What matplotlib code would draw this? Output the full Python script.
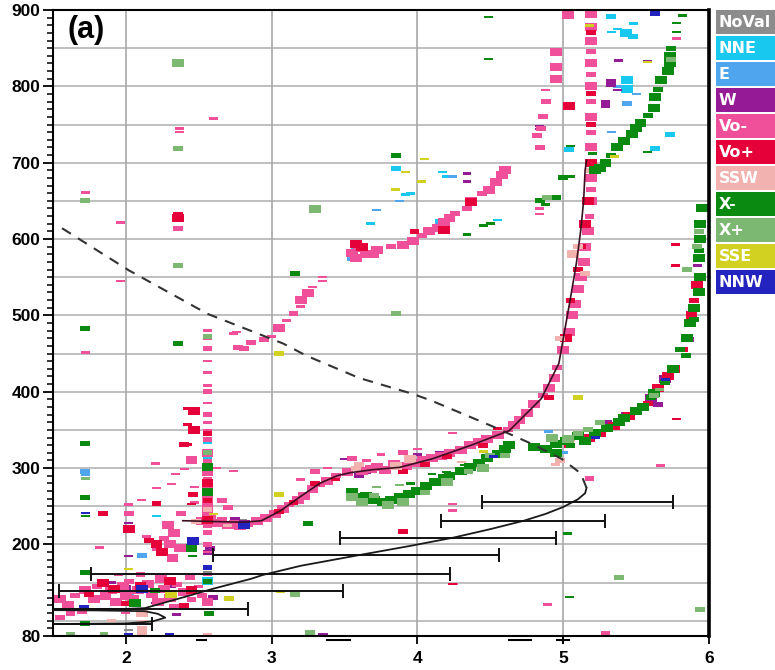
import numpy as np
import matplotlib
matplotlib.use("Agg")
import matplotlib.pyplot as plt
from matplotlib.patches import Rectangle
from matplotlib.ticker import FixedLocator, MultipleLocator

plt.rcParams["font.family"] = ["Liberation Sans", "DejaVu Sans"]

# ---- echo classes (legend order) and colours ----
classes = ["NoVal", "NNE", "E", "W", "Vo-", "Vo+", "SSW", "X-", "X+", "SSE", "NNW"]
class_colors = ["#8c8c8c", "#19c8ee", "#4fa6ee", "#951a96", "#f0509a", "#e6003a",
                "#f2b2b0", "#0b8a12", "#7cb872", "#d2d020", "#2323c0"]

# ---- echoes: (frequency MHz, virtual height km, amplitude class 1..3) ----
echo_noval = [(2.56, 164, 1), (2.80, 232, 1), (2.02, 88, 1)]

echo_nne = [(2.56, 152, 3), (2.56, 335, 2), (2.21, 237, 1), (2.56, 315, 2), (3.85, 693, 2),
            (3.95, 660, 1), (5.44, 808, 3), (5.44, 796, 3), (5.04, 717, 2), (5.63, 719, 2),
            (5.43, 870, 3), (5.48, 865, 2), (5.33, 891, 2), (5.33, 871, 1), (5.37, 875, 1),
            (5.48, 882, 1), (4.17, 688, 1), (4.20, 682, 1), (2.10, 148, 2), (2.00, 138, 2),
            (5.73, 737, 2), (3.68, 620, 1), (3.92, 658, 1), (4.15, 624, 1), (4.55, 625, 1)]

echo_e = [(1.72, 296, 2), (1.72, 291, 1), (2.02, 135, 2), (2.11, 185, 2), (2.56, 305, 2),
          (4.24, 682, 1), (5.44, 777, 2), (5.37, 800, 1), (5.50, 790, 1), (3.58, 590, 2),
          (3.60, 585, 1), (3.72, 638, 1), (3.88, 650, 1), (5.33, 740, 1), (4.15, 620, 1),
          (3.55, 575, 2), (5.15, 620, 2), (4.90, 348, 1), (5.00, 320, 1)]

echo_w = [(2.02, 228, 1), (2.02, 185, 1), (2.46, 205, 2), (2.81, 227, 3), (2.75, 233, 2),
          (2.56, 190, 2), (2.56, 310, 1), (3.60, 290, 2), (3.65, 295, 2), (3.30, 297, 1),
          (3.50, 312, 1), (4.00, 318, 1), (4.15, 320, 1), (5.33, 806, 2), (5.33, 802, 2),
          (5.37, 795, 1), (5.29, 779, 2), (5.29, 775, 2), (4.34, 686, 1), (4.34, 675, 1),
          (5.38, 834, 1), (5.58, 833, 1), (4.84, 748, 1), (4.84, 744, 1), (3.35, 81, 2),
          (2.45, 142, 2), (2.30, 148, 3), (2.20, 123, 1), (2.60, 131, 2), (5.60, 392, 3),
          (5.65, 383, 2), (5.70, 417, 3), (5.86, 468, 2), (5.92, 565, 1), (5.93, 600, 2),
          (2.00, 143, 2), (2.35, 108, 1), (1.90, 150, 1), (5.43, 370, 2), (5.30, 360, 2),
          (2.58, 195, 2)]

echo_vo_minus = [
    # F-region ordinary trace
    (2.52, 230, 3), (2.58, 236, 3), (2.62, 228, 3), (2.66, 233, 2), (2.70, 226, 3),
    (2.74, 229, 2), (2.78, 224, 3), (2.84, 226, 2), (2.90, 230, 3), (2.96, 235, 3),
    (3.02, 240, 3), (3.08, 247, 3), (3.12, 252, 2), (3.18, 258, 3), (3.22, 264, 3),
    (3.28, 272, 3), (3.33, 278, 2), (3.38, 283, 3), (3.44, 290, 2), (3.52, 295, 3),
    (3.62, 296, 3), (3.68, 299, 3), (3.72, 302, 3), (3.78, 298, 3), (3.84, 305, 3),
    (3.92, 303, 3), (3.98, 306, 3), (4.04, 310, 3), (4.10, 313, 3), (4.16, 316, 3),
    (4.22, 320, 3), (4.30, 324, 3), (4.36, 330, 3), (4.42, 334, 3), (4.48, 338, 3),
    (4.55, 343, 3), (4.62, 350, 2), (4.66, 356, 3), (4.70, 363, 3), (4.75, 372, 3),
    (4.80, 384, 3), (4.86, 395, 2),
    (4.90, 405, 3), (4.94, 418, 3), (4.96, 432, 2), (5.00, 455, 3), (5.04, 478, 3),
    (5.06, 500, 3), (5.08, 515, 3), (5.10, 535, 3), (5.12, 550, 3), (5.14, 570, 3),
    (5.15, 590, 3), (5.17, 610, 3), (5.18, 630, 2), (5.19, 650, 3), (5.19, 665, 2),
    (5.19, 680, 3), (5.19, 720, 3), (5.19, 740, 2), (5.19, 760, 3), (5.19, 780, 2),
    (5.19, 800, 3), (5.19, 815, 2), (5.19, 830, 3), (5.19, 845, 2), (5.19, 860, 3),
    (5.19, 878, 3), (5.19, 895, 3),
    (3.65, 310, 1), (3.75, 318, 1), (3.90, 320, 2), (4.00, 325, 1), (3.55, 312, 2),
    (3.30, 296, 2), (3.20, 285, 1), (3.38, 300, 1),
    # second-hop trace
    (2.56, 458, 1), (2.77, 458, 2), (2.86, 464, 2), (2.95, 468, 2), (3.00, 472, 1),
    (2.74, 476, 1), (3.05, 484, 3), (3.10, 493, 1), (3.15, 502, 2), (3.20, 512, 1),
    (3.20, 520, 3), (3.25, 529, 3), (3.28, 537, 1), (3.35, 550, 1), (3.35, 545, 1),
    (3.55, 582, 3), (3.60, 588, 3), (3.58, 575, 3), (3.65, 580, 3), (3.72, 585, 3),
    (3.70, 578, 2), (3.82, 590, 2), (3.90, 592, 3), (3.97, 598, 3), (4.03, 605, 2),
    (4.08, 611, 3), (4.14, 615, 3), (4.18, 622, 3), (4.22, 628, 3), (4.26, 633, 2),
    (4.34, 640, 2), (4.37, 650, 3), (4.44, 660, 2), (4.49, 664, 3), (4.54, 675, 3),
    (4.58, 684, 3), (4.60, 690, 3),
    (4.84, 720, 2), (4.82, 735, 2), (4.85, 745, 2), (4.86, 760, 2), (4.88, 780, 2),
    (4.88, 795, 1), (4.95, 810, 3), (4.95, 825, 3), (4.95, 845, 3), (5.03, 893, 3),
    (4.84, 640, 1), (4.84, 633, 1),
    # column near 2.56 MHz
    (2.56, 480, 1), (2.56, 470, 1), (2.56, 455, 1), (2.56, 440, 1), (2.56, 425, 1),
    (2.56, 408, 1), (2.56, 400, 2), (2.56, 385, 1), (2.56, 370, 2), (2.56, 360, 1),
    (2.56, 348, 2), (2.56, 338, 2), (2.56, 320, 3), (2.56, 308, 2), (2.56, 295, 3),
    (2.56, 285, 2), (2.56, 272, 3), (2.56, 262, 3), (2.56, 252, 3), (2.56, 242, 3),
    (2.56, 225, 2), (2.56, 215, 2), (2.56, 200, 2), (2.56, 190, 1), (2.56, 170, 1),
    (2.56, 160, 1),
    # lower spread echoes
    (2.29, 225, 3), (2.33, 215, 3), (2.30, 200, 3), (2.37, 195, 3), (2.32, 182, 3),
    (2.38, 240, 2), (2.26, 208, 2), (2.21, 274, 1), (2.31, 279, 1), (2.34, 292, 1),
    (2.45, 310, 3), (2.40, 299, 1), (2.20, 306, 1), (2.21, 195, 2), (2.14, 210, 1),
    (2.02, 240, 2), (2.02, 252, 1), (1.82, 196, 1), (2.11, 258, 1), (2.47, 255, 1),
    (2.47, 275, 1), (2.62, 300, 1), (2.66, 257, 2), (2.70, 248, 2), (2.74, 296, 1),
    (2.76, 478, 1), (2.81, 457, 2), (1.72, 451, 1), (1.72, 661, 1), (1.96, 622, 1),
    (1.96, 545, 1), (2.36, 614, 2), (2.37, 745, 1), (2.37, 740, 1), (2.60, 758, 1),
    (4.24, 253, 1), (4.24, 244, 1), (4.24, 346, 1), (5.67, 303, 1), (5.18, 286, 2),
    (4.89, 121, 1), (5.29, 83, 2), (4.25, 148, 1), (5.78, 863, 1),
    # E region
    (1.55, 128, 3), (1.60, 120, 3), (1.65, 133, 2), (1.72, 140, 3), (1.78, 128, 3),
    (1.80, 145, 2), (1.86, 133, 3), (1.90, 140, 3), (1.93, 125, 3), (1.98, 146, 3),
    (2.00, 133, 3), (2.05, 128, 3), (2.08, 140, 3), (2.15, 148, 3), (2.18, 135, 3),
    (2.22, 125, 3), (2.26, 142, 3), (2.30, 130, 3), (2.35, 148, 2), (2.40, 138, 3),
    (2.45, 128, 2), (2.52, 133, 2), (2.56, 124, 3), (1.62, 110, 2), (1.55, 104, 2),
    (2.02, 152, 2), (2.24, 155, 3), (2.44, 157, 2), (2.10, 160, 2), (1.95, 160, 1),
    (1.70, 112, 2), (2.33, 119, 2), (1.90, 115, 1), (2.00, 110, 1), (2.50, 145, 1)]

echo_vo_plus = [(2.40, 331, 2), (2.47, 375, 3), (2.42, 378, 1), (2.47, 350, 3), (2.42, 357, 1),
                (2.42, 331, 1), (2.46, 266, 2), (2.45, 253, 1), (2.21, 253, 2), (2.21, 200, 3),
                (2.25, 190, 3), (2.16, 205, 2), (1.84, 241, 2), (2.02, 220, 3), (2.36, 628, 3),
                (2.36, 632, 2), (2.56, 345, 2), (2.56, 280, 3), (2.56, 258, 2), (2.56, 232, 3),
                (3.05, 243, 2), (3.15, 255, 2), (3.30, 280, 2), (3.44, 285, 1), (3.90, 296, 2),
                (4.05, 305, 2), (4.20, 315, 2), (4.45, 330, 2), (4.55, 352, 1), (4.90, 392, 2),
                (5.02, 470, 3), (5.05, 520, 2), (5.10, 560, 2), (5.12, 590, 2), (5.15, 620, 3),
                (5.17, 650, 3), (5.19, 700, 3), (5.19, 750, 2), (5.19, 790, 2), (5.19, 870, 2),
                (5.04, 774, 3), (3.90, 217, 2), (4.24, 148, 1), (1.84, 150, 3), (1.92, 142, 3),
                (2.10, 145, 3), (2.30, 152, 3), (2.45, 140, 3), (2.00, 122, 2), (2.40, 120, 2),
                (1.75, 135, 2), (3.62, 590, 3), (3.58, 593, 3), (3.98, 610, 2), (4.18, 612, 3),
                (4.37, 648, 3), (5.77, 593, 1), (5.77, 565, 1), (5.78, 364, 1), (5.35, 355, 3),
                (5.45, 368, 3), (5.58, 385, 2), (5.65, 405, 3), (5.72, 420, 3), (5.76, 430, 3),
                (5.82, 455, 2), (5.88, 500, 3), (5.90, 520, 2), (5.92, 540, 3), (5.04, 330, 2),
                (5.18, 340, 3), (5.25, 346, 3), (4.85, 325, 2), (4.95, 330, 2)]

echo_ssw = [(2.11, 110, 3), (2.11, 98, 2), (2.11, 90, 2), (2.11, 84, 2), (2.56, 82, 1),
            (4.98, 470, 2), (5.07, 580, 3), (5.10, 590, 2), (5.19, 690, 2), (3.95, 312, 3),
            (3.85, 303, 3), (3.60, 305, 2), (3.58, 300, 2), (4.95, 305, 1), (4.98, 310, 2),
            (5.05, 338, 2), (5.15, 555, 2), (2.48, 230, 2), (2.56, 246, 2), (1.90, 100, 1),
            (2.70, 225, 1), (4.30, 308, 1)]

echo_x_minus = [
    (3.55, 268, 3), (3.60, 262, 3), (3.65, 264, 3), (3.70, 258, 3), (3.76, 256, 3),
    (3.82, 258, 3), (3.88, 262, 3), (3.94, 266, 3), (4.00, 270, 3), (4.06, 276, 3),
    (4.12, 282, 3), (4.18, 287, 3), (4.22, 290, 3), (4.30, 296, 3), (4.36, 302, 3),
    (4.42, 307, 3), (4.48, 313, 3), (4.55, 318, 3), (4.60, 325, 3), (4.63, 330, 3),
    (3.95, 280, 1), (4.10, 292, 1), (4.20, 295, 1), (4.32, 304, 1),
    (4.80, 328, 3), (4.88, 325, 3), (4.95, 332, 3), (4.95, 320, 3), (5.02, 335, 3),
    (5.05, 330, 2), (5.10, 342, 3), (5.15, 335, 3), (5.22, 346, 3), (5.30, 352, 3),
    (5.38, 360, 3), (5.42, 366, 3), (5.50, 375, 3), (5.55, 380, 3), (5.60, 392, 2),
    (5.62, 398, 3), (5.70, 412, 2), (5.75, 430, 3), (5.80, 455, 2), (5.85, 470, 3),
    (5.87, 490, 3), (5.90, 510, 3), (5.93, 530, 3), (5.94, 550, 3), (5.93, 575, 3),
    (5.94, 600, 3), (5.94, 620, 3), (5.95, 640, 3), (5.93, 585, 2), (5.90, 495, 2),
    (5.84, 448, 2),
    (5.22, 690, 3), (5.25, 693, 3), (5.29, 699, 3), (5.33, 710, 2), (5.37, 720, 3),
    (5.42, 728, 3), (5.47, 738, 3), (5.50, 745, 3), (5.53, 752, 3), (5.58, 762, 2),
    (5.62, 772, 3), (5.63, 786, 3), (5.65, 796, 2), (5.67, 808, 3), (5.72, 820, 3),
    (5.73, 830, 3), (5.73, 840, 3), (5.74, 850, 2), (5.78, 883, 1), (5.78, 871, 1),
    (5.82, 893, 1), (5.00, 680, 2), (5.05, 682, 1), (4.95, 655, 2), (4.84, 651, 2),
    (4.88, 645, 1), (5.05, 722, 1), (5.58, 714, 1), (5.20, 712, 1),
    (4.49, 891, 1), (4.49, 836, 1), (3.85, 710, 2), (3.16, 555, 2), (4.34, 606, 1),
    (4.45, 618, 1), (4.50, 620, 1), (2.36, 463, 2), (1.72, 483, 2), (1.72, 332, 2),
    (1.72, 261, 2), (1.72, 237, 1), (1.72, 163, 2), (1.72, 97, 2), (2.57, 110, 2),
    (2.06, 123, 3), (2.45, 195, 3), (2.56, 302, 3), (2.56, 268, 3), (5.04, 131, 1),
    (5.03, 214, 1), (3.25, 227, 2), (2.46, 185, 1), (2.56, 152, 2), (2.20, 140, 2)]

echo_x_plus = [(3.55, 262, 3), (3.62, 255, 3), (3.70, 264, 2), (3.80, 252, 3), (3.90, 255, 3),
               (4.05, 268, 2), (4.20, 282, 3), (4.35, 296, 2), (4.45, 300, 3), (4.50, 316, 2),
               (4.60, 316, 2), (3.72, 275, 1), (3.88, 278, 1), (4.92, 340, 3), (5.03, 338, 3),
               (5.10, 345, 2), (5.17, 350, 2), (5.25, 360, 2), (5.62, 395, 2), (5.66, 403, 1),
               (5.85, 560, 2), (5.92, 590, 2), (5.93, 610, 2), (2.36, 830, 3), (2.36, 719, 2),
               (2.36, 565, 2), (1.72, 650, 2), (3.30, 639, 3), (3.85, 502, 2), (5.38, 157, 2),
               (5.94, 115, 2), (3.16, 134, 2), (3.26, 85, 2), (2.56, 472, 2), (1.72, 286, 1),
               (2.56, 320, 2), (1.62, 83, 1), (1.85, 83, 1), (4.89, 655, 2), (5.74, 835, 2)]

echo_sse = [(2.31, 135, 3), (2.71, 129, 2), (3.06, 138, 1), (3.05, 266, 2), (3.05, 450, 2),
            (2.02, 168, 1), (4.03, 675, 1), (3.85, 665, 1), (4.05, 705, 1), (3.92, 688, 1),
            (5.10, 392, 2), (5.58, 832, 1), (5.35, 708, 1), (2.60, 240, 1), (4.45, 322, 1),
            (5.18, 880, 1)]

echo_nnw = [(2.11, 142, 3), (1.71, 117, 2), (2.46, 205, 3), (2.81, 226, 3), (1.72, 241, 1),
            (2.30, 82, 1), (2.56, 170, 2), (5.63, 895, 2), (4.52, 315, 1), (2.02, 82, 1),
            (5.22, 340, 1), (5.70, 416, 1)]

echo_sets = [echo_noval, echo_nne, echo_e, echo_w, echo_vo_minus, echo_vo_plus,
             echo_ssw, echo_x_minus, echo_x_plus, echo_sse, echo_nnw]

# ---- true-height profile (plasma frequency vs real height) ----
profile_f = [1.40, 2.00, 2.18, 2.27, 2.22, 2.13, 1.80, 1.40, 1.40, 2.00, 2.13, 2.40, 2.60,
             2.86, 2.94, 3.20, 3.60, 3.95, 4.25, 4.50, 4.73, 4.88, 5.00, 5.10, 5.15, 5.16]
profile_h = [95.5, 96.5, 99, 104, 109, 112.5, 113.5, 114, 115, 115.5, 116.5, 131, 142,
             155, 160, 172, 186, 198, 209, 220, 231, 240, 249, 259, 267, 274]

# topside extrapolation
topside_f = [5.16, 5.12, 4.99, 4.78, 4.51, 4.10, 3.97, 3.60, 3.24, 3.08, 2.88, 2.56, 2.02, 1.53]
topside_h = [274, 293, 312, 332, 355, 388, 397, 418, 447, 463, 478, 502, 559, 618]

# recomputed O-mode virtual-height trace
vtrace_f = [2.39, 2.60, 2.80, 2.93, 3.06, 3.20, 3.33, 3.45, 3.54, 3.70, 3.88, 4.10, 4.37,
            4.63, 4.85, 4.97, 5.01, 5.05, 5.09, 5.12, 5.14, 5.15, 5.16]
vtrace_h = [231, 230, 229, 231, 244, 263, 280, 290, 294, 298, 301, 312, 330,
            349, 391, 437, 480, 523, 568, 611, 650, 690, 703]

# uncertainty bars of the profile
bar_h = [96, 115, 139, 161, 186, 209, 231, 256]
bar_lo = [1.30, 1.30, 1.54, 1.76, 2.60, 3.47, 4.16, 4.44]
bar_hi = [2.18, 2.84, 3.49, 4.22, 4.56, 4.95, 5.29, 5.755]

# frequency markers under the axis
marker_bands = [(2.49, 2.55), (3.38, 3.54), (4.63, 4.78), (4.96, 5.04)]
marker_plus = [5.0]

# ---- figure ----
W, H = 775, 670
fig = plt.figure(figsize=(W / 100, H / 100), dpi=100)
ax = fig.add_axes([53 / W, 1 - 636 / H, (709 - 53) / W, (636 - 10) / H])
ax.set_xlim(1.5, 6.0)
ax.set_ylim(80, 900)

# grid
for hy in range(100, 900, 50):
    ax.axhline(hy, color="#b4b4b4", lw=1.2, zorder=0)
for vx in [2, 3, 4, 5]:
    ax.axvline(vx, color="#a8a8a8", lw=1.2, zorder=0)

# echo marks as small rectangles (width in MHz, height in km per amplitude class)
px_x = 147.0
px_y = 0.7622
mark_w = {1: 9 / px_x, 2: 10 / px_x, 3: 12 / px_x}
mark_h = {1: 2.6 / px_y, 2: 5.0 / px_y, 3: 8.0 / px_y}
for pts, col in zip(echo_sets, class_colors):
    arr = np.array(pts, dtype=float)
    xs, ys, ws = arr[:, 0], arr[:, 1], arr[:, 2].astype(int)
    widths = np.array([mark_w[w] for w in ws])
    heights = np.array([mark_h[w] for w in ws])
    ax.barh(ys, widths, left=xs - widths / 2, height=heights, color=col,
            linewidth=0, zorder=2)

# curves
ax.plot(profile_f, profile_h, color="#1a1a1a", lw=1.3, zorder=4)
ax.plot(topside_f, topside_h, color="#333333", lw=1.5, ls=(0, (5, 4)), zorder=4)
ax.plot(vtrace_f, vtrace_h, color="#3a1020", lw=1.2, zorder=4)

bar_c = [(a + b) / 2 for a, b in zip(bar_lo, bar_hi)]
bar_e = [(b - a) / 2 for a, b in zip(bar_lo, bar_hi)]
ax.errorbar(bar_c, bar_h, xerr=bar_e, fmt="none", ecolor="#111111", elinewidth=1.4,
            capsize=5, capthick=1.4, zorder=5)

# markers below the frequency axis
trans = ax.get_xaxis_transform()
for a, b in marker_bands:
    ax.plot([a, b], [-0.006, -0.006], transform=trans, color="black", lw=1.5,
            clip_on=False, zorder=6)
for xp in marker_plus:
    ax.plot([xp, xp], [-0.001, -0.011], transform=trans, color="black", lw=1.5,
            clip_on=False, zorder=6)

# axes styling
ax.xaxis.set_major_locator(FixedLocator([2, 3, 4, 5, 6]))
ax.yaxis.set_major_locator(FixedLocator([80, 200, 300, 400, 500, 600, 700, 800, 900]))
ax.yaxis.set_minor_locator(MultipleLocator(10))
ax.tick_params(axis="y", which="major", length=7, width=1.3, direction="out", pad=2,
               labelsize=12.5)
ax.tick_params(axis="y", which="minor", length=4, width=1.1, direction="out")
ax.tick_params(axis="x", which="major", length=6, width=1.3, direction="out", pad=5,
               labelsize=12.5)
for lab in ax.get_xticklabels() + ax.get_yticklabels():
    lab.set_fontweight("bold")
for side in ["left", "bottom", "top"]:
    ax.spines[side].set_linewidth(1.5)
ax.spines["right"].set_linewidth(2.6)

ax.text(0.022, 0.992, "(a)", transform=ax.transAxes, ha="left", va="top",
        fontsize=22, fontweight="bold", color="black", zorder=7)

# class legend: coloured boxes at the right edge
box_top = 10
box_h = 24
box_step = 26
for i, (name, col) in enumerate(zip(classes, class_colors)):
    y0 = box_top + i * box_step
    fig.patches.append(Rectangle((716 / W, 1 - (y0 + box_h) / H), 59 / W, box_h / H,
                                 transform=fig.transFigure, facecolor=col,
                                 edgecolor="none"))
    fig.text(719 / W, 1 - (y0 + box_h / 2 + 0.5) / H, name, color="white",
             fontsize=11.5, fontweight="bold", ha="left", va="center",
             family=["DejaVu Sans"])

fig.savefig("out.png", dpi=100)
